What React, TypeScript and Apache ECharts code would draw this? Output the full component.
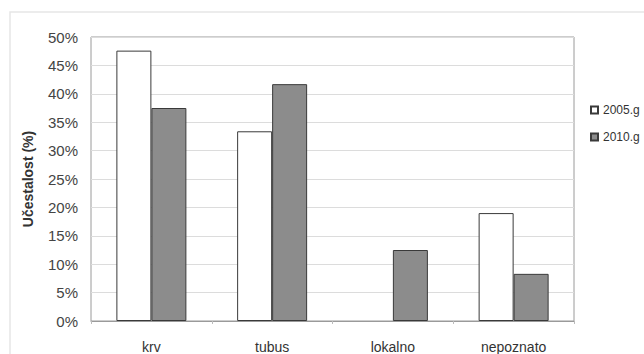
import React, { useEffect, useRef } from "react";
import * as echarts from "echarts";

const categories = ["krv", "tubus", "lokalno", "nepoznato"];
const values2005 = [47.6, 33.4, 0, 19.0];
const values2010 = [37.5, 41.7, 12.5, 8.3];
const seriesNames = ["2005.g", "2010.g"];

// zero-height bars get no outline so nothing shows at the baseline
const toBarData = (vals: number[]) =>
  vals.map((v) => (v === 0 ? { value: v, itemStyle: { borderWidth: 0 } } : v));

export default function App() {
  const ref = useRef<HTMLDivElement>(null);

  useEffect(() => {
    if (!ref.current) return;
    const chart = echarts.init(ref.current, null, { renderer: "svg" });
    const font = "Liberation Sans, Arial, sans-serif";
    chart.setOption({
      animation: false,
      backgroundColor: "#ffffff",
      graphic: [
        {
          type: "rect",
          shape: { x: 10, y: 12, width: 700, height: 400 },
          style: { fill: "none", stroke: "#e6e6e6", lineWidth: 1.5 },
          silent: true,
          z: 0,
        },
      ],
      grid: {
        left: 91,
        right: 70,
        top: 37,
        bottom: 32,
        show: true,
        borderColor: "#9a9a9a",
        borderWidth: 1,
        containLabel: false,
      },
      legend: {
        orient: "vertical",
        left: 585,
        top: 99,
        itemWidth: 7,
        itemHeight: 7,
        itemGap: 15,
        icon: "rect",
        textStyle: { fontFamily: font, fontSize: 12, color: "#333" },
        data: seriesNames,
      },
      xAxis: {
        type: "category",
        data: categories,
        axisLine: { lineStyle: { color: "#9a9a9a" } },
        axisTick: { show: true, length: 3, lineStyle: { color: "#bbb" } },
        axisLabel: { fontFamily: font, fontSize: 14, color: "#333", margin: 19 },
      },
      yAxis: {
        type: "value",
        min: 0,
        max: 50,
        interval: 5,
        name: "Učestalost (%)",
        nameLocation: "middle",
        nameGap: 56,
        nameTextStyle: { fontFamily: font, fontSize: 14, fontWeight: "bold", color: "#333" },
        axisLine: { show: false },
        axisTick: { show: false },
        axisLabel: { formatter: "{value}%", fontFamily: font, fontSize: 15, color: "#444", margin: 13 },
        splitLine: { lineStyle: { color: "#dcdcdc" } },
      },
      series: [
        {
          name: seriesNames[0],
          type: "bar",
          data: toBarData(values2005),
          barWidth: 35,
          barGap: "0%",
          itemStyle: { color: "#ffffff", borderColor: "#3a3a3a", borderWidth: 1 },
        },
        {
          name: seriesNames[1],
          type: "bar",
          data: toBarData(values2010),
          barWidth: 35,
          barGap: "0%",
          itemStyle: { color: "#8c8c8c", borderColor: "#3a3a3a", borderWidth: 1 },
        },
      ],
    });
    return () => chart.dispose();
  }, []);

  return (
    <div
      ref={ref}
      style={{ position: "fixed", left: 0, top: 0, width: 644, height: 354 }}
    />
  );
}
